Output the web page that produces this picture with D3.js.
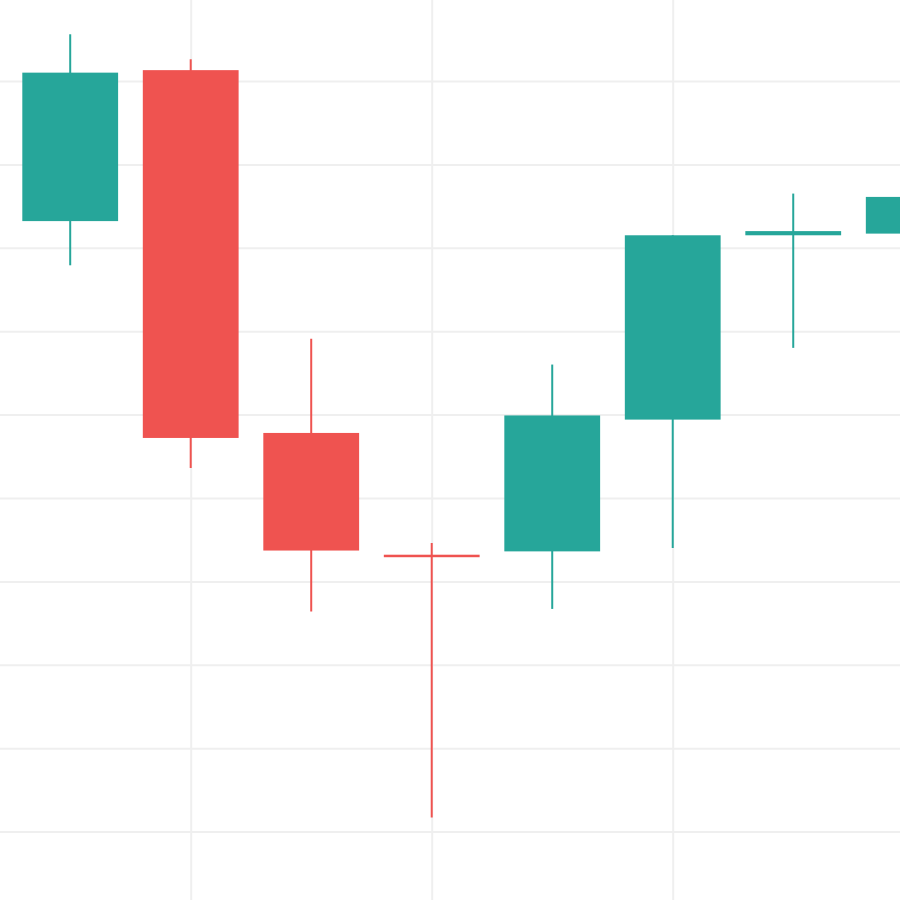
<!DOCTYPE html>
<html>
<head>
<meta charset="utf-8">
<script src="https://cdn.jsdelivr.net/npm/d3@7"></script>
<style>
  html, body { margin: 0; padding: 0; background: #ffffff; }
  svg { display: block; }
</style>
</head>
<body>
<div id="chart"></div>
<script>
// ---- data ----
const periods = [1, 2, 3, 4, 5, 6, 7, 8];
const opens  = [173.2, 191.3, 147.8, 133.2, 133.6, 149.4, 171.5, 171.7];
const highs  = [195.6, 192.6, 159.1, 134.6, 156.0, 171.5, 176.5, 176.1];
const lows   = [167.9, 143.6, 126.4, 101.7, 126.7, 134.0, 158.0, 171.7];
const closes = [191.0, 147.2, 133.7, 132.9, 149.9, 171.5, 172.0, 176.1];
const priceTicks = [100, 110, 120, 130, 140, 150, 160, 170, 180, 190];
const timeTicks = [2, 4, 6, 8];

const candles = periods.map((p, i) => ({
  p, o: opens[i], h: highs[i], l: lows[i], c: closes[i]
}));

// ---- layout ----
const W = 900, H = 900;
const upColor = "#26a69a", downColor = "#ef5350", gridColor = "#efefef";

const x = d3.scaleLinear().domain([0.4174, 7.886]).range([0, W]);
const y = d3.scaleLinear().domain([91.8, 199.71]).range([H, 0]);
const step = x(2) - x(1);
const bodyW = step * 0.795;

const svg = d3.select("#chart").append("svg")
  .attr("width", W).attr("height", H);

// grid via axes
svg.append("g")
  .attr("class", "ygrid")
  .call(d3.axisRight(y).tickValues(priceTicks).tickSize(W).tickFormat(""))
  .call(g => g.select(".domain").remove())
  .call(g => g.selectAll("line").attr("stroke", gridColor).attr("stroke-width", 2));

svg.append("g")
  .attr("class", "xgrid")
  .call(d3.axisBottom(x).tickValues(timeTicks).tickSize(H).tickFormat(""))
  .call(g => g.select(".domain").remove())
  .call(g => g.selectAll("line").attr("stroke", gridColor).attr("stroke-width", 2));

const col = d => d.c >= d.o ? upColor : downColor;

const g = svg.append("g").selectAll("g").data(candles).join("g");

g.append("line")
  .attr("x1", d => x(d.p)).attr("x2", d => x(d.p))
  .attr("y1", d => y(d.h)).attr("y2", d => y(d.l))
  .attr("stroke", col).attr("stroke-width", 2);

g.append("rect")
  .attr("x", d => x(d.p) - bodyW / 2)
  .attr("width", bodyW)
  .attr("y", d => Math.min(y(d.o), y(d.c)) - (Math.abs(y(d.o) - y(d.c)) < 2.5 ? (2.5 - Math.abs(y(d.o) - y(d.c))) / 2 : 0))
  .attr("height", d => Math.max(2.5, Math.abs(y(d.o) - y(d.c))))
  .attr("fill", col);
</script>
</body>
</html>
